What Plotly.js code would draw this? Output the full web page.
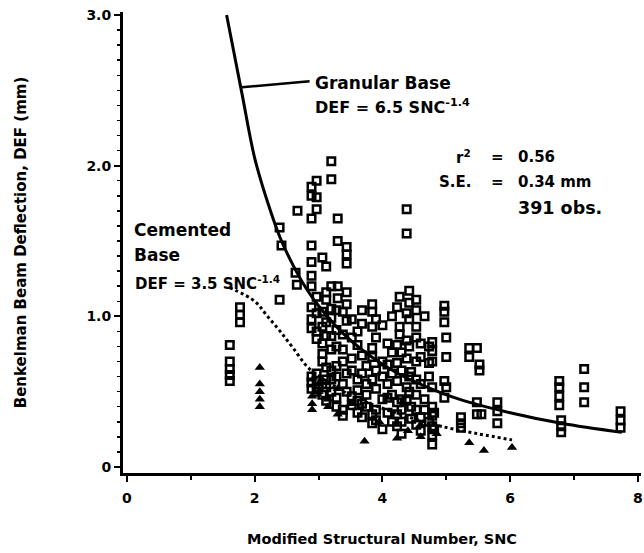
<!DOCTYPE html>
<html>
<head>
<meta charset="utf-8">
<script src="https://cdn.plot.ly/plotly-3.0.1.min.js"></script>
<style>html,body{margin:0;padding:0;background:#fff;}#chart{width:644px;height:553px;}</style>
</head>
<body>
<div id="chart"></div>
<script>
// Granular base observations (open squares)
const granX = [
  1.61,1.61,1.61,1.61,1.61,
  1.77,1.77,1.77,
  2.39,2.39,2.42,2.64,2.66,2.67,
  2.89,2.89,2.89,2.89,2.89,2.89,2.89,2.89,2.89,2.89,2.89,2.89,2.89,
  2.97,2.97,2.97,2.97,2.97,2.97,2.97,2.97,2.97,2.97,
  3.06,3.06,3.06,3.06,3.06,3.06,3.06,3.06,
  3.12,3.12,3.12,3.12,3.12,3.12,3.12,3.12,3.12,
  3.20,3.20,3.20,3.20,3.20,3.20,3.20,3.20,3.20,3.20,
  3.28,3.28,3.28,3.28,3.28,3.28,3.28,
  3.30,3.30,3.30,3.30,
  3.38,3.38,3.38,3.38,3.38,3.38,3.38,
  3.44,3.44,3.44,3.44,3.44,3.44,3.44,3.44,
  3.52,3.52,3.52,3.52,3.52,3.52,
  3.61,3.61,3.61,3.61,3.61,3.61,
  3.68,3.68,3.68,3.68,3.68,3.68,
  3.75,3.75,3.75,3.75,
  3.84,3.84,3.84,3.84,3.84,3.84,3.84,3.84,
  3.90,3.90,3.90,3.90,3.90,3.90,
  4.00,4.00,4.00,4.00,4.00,
  4.08,4.08,4.08,4.08,4.08,
  4.15,4.15,4.15,4.15,4.15,
  4.23,4.23,4.23,4.23,4.23,4.23,4.23,
  4.27,4.27,4.27,
  4.30,4.30,4.30,4.30,4.30,4.30,
  4.38,4.38,4.38,4.38,4.38,4.38,4.38,
  4.42,4.42,4.42,4.42,4.42,4.42,
  4.45,4.45,4.45,
  4.53,4.53,4.53,4.53,4.53,4.53,4.53,4.53,4.53,
  4.60,4.60,4.60,4.60,4.60,
  4.66,4.66,4.66,
  4.73,4.73,4.73,4.73,
  4.78,4.78,4.78,4.78,4.78,4.78,4.78,4.78,4.78,
  4.81,4.81,
  4.97,4.97,4.97,4.97,4.97,
  5.00,5.00,5.00,
  5.23,5.23,5.23,
  5.36,5.36,
  5.48,5.48,5.52,5.52,5.48,
  5.55,
  5.80,5.80,5.80,
  6.77,6.77,6.77,6.77,
  6.80,6.80,6.80,
  7.16,7.16,7.16,
  7.73,7.73,7.73
];
const granY = [
  0.81,0.70,0.65,0.61,0.57,
  1.06,1.01,0.96,
  1.59,1.11,1.47,1.29,1.21,1.70,
  1.86,1.80,1.65,1.47,1.36,1.27,1.20,1.06,0.98,0.92,0.60,0.56,0.52,
  1.90,1.79,1.71,1.13,1.02,0.90,0.85,0.62,0.57,0.50,
  1.39,1.03,0.93,0.82,0.75,0.70,0.55,0.48,
  1.33,1.16,1.11,0.96,0.87,0.66,0.58,0.53,0.44,
  2.03,1.91,1.20,1.05,0.99,0.87,0.78,0.64,0.58,0.50,
  1.04,0.91,0.80,0.67,0.60,0.46,0.40,
  1.65,1.50,1.20,1.12,
  1.03,0.88,0.78,0.70,0.55,0.38,0.34,
  1.46,1.41,1.35,1.16,1.08,0.97,0.62,0.50,
  0.98,0.86,0.72,0.64,0.47,0.41,
  0.90,0.81,0.58,0.51,0.44,0.36,
  1.04,0.95,0.74,0.62,0.42,0.33,
  0.67,0.55,0.48,0.40,
  1.08,1.03,0.93,0.79,0.73,0.58,0.35,0.29,
  0.98,0.86,0.64,0.52,0.38,0.31,
  0.94,0.70,0.60,0.45,0.25,
  0.82,0.68,0.55,0.46,0.36,
  1.00,0.76,0.62,0.48,0.30,
  1.06,0.81,0.69,0.57,0.43,0.35,0.27,
  1.13,0.93,0.88,
  0.76,0.64,0.45,0.38,0.30,0.22,
  1.71,1.55,1.02,0.84,0.72,0.53,0.44,
  1.17,1.09,0.98,0.80,0.60,0.50,
  0.63,0.40,0.32,
  1.11,1.04,0.93,0.86,0.70,0.58,0.48,0.38,0.28,
  0.82,0.73,0.55,0.33,0.24,
  1.00,0.45,0.38,
  0.80,0.69,0.60,0.30,
  0.83,0.77,0.70,0.53,0.40,0.34,0.27,0.21,0.15,
  0.36,0.25,
  1.07,1.03,0.96,0.57,0.46,
  0.86,0.73,0.53,
  0.33,0.29,0.26,
  0.79,0.73,
  0.79,0.43,0.68,0.64,0.35,
  0.35,
  0.43,0.37,0.29,
  0.57,0.53,0.47,0.41,
  0.31,0.27,0.23,
  0.65,0.53,0.43,
  0.37,0.31,0.26
];

// Cemented base observations (filled triangles)
const cemX = [2.08,2.08,2.08,2.08,2.08, 2.90,2.90,2.90, 3.00,3.00, 3.15,3.15, 3.30,3.30, 3.50, 3.72, 3.95, 4.23, 4.40, 4.60,4.60, 4.85, 5.36, 5.59, 6.03];
const cemY = [0.66,0.55,0.50,0.45,0.40, 0.47,0.42,0.38, 0.55,0.50, 0.45,0.40, 0.52,0.35, 0.42, 0.17, 0.30, 0.19, 0.24, 0.20,0.28, 0.22, 0.16, 0.11, 0.13];

// Fitted curves
const granCurveX = [1.56,1.80,2.00,2.20,2.40,2.60,2.80,3.00,3.40,3.80,4.20,4.70,5.20,6.00,6.80,7.75];
const granCurveY = [3.00,2.48,2.05,1.76,1.52,1.34,1.19,1.07,0.88,0.74,0.63,0.53,0.45,0.36,0.29,0.23];
const cemCurveX = [1.61,2.00,2.20,2.40,2.60,2.86,3.20,3.53,4.00,4.50,4.92,5.50,6.03];
const cemCurveY = [1.19,1.10,1.00,0.90,0.79,0.65,0.55,0.47,0.39,0.32,0.27,0.22,0.18];

// Axis ticks
const yTickVals = [0,1,2,3];
const yTickText = ['0','1.0','2.0','3.0'];
const xTickVals = [0,2,4,6,8];
const xTickText = ['0','2','4','6','8'];

const FONT = 'DejaVu Sans, Liberation Sans, Arial, sans-serif';

const traces = [
  {x: granX, y: granY, mode: 'markers', type: 'scatter', name: 'Granular Base',
   marker: {symbol: 'square-open', size: 7.5, color: '#000', line: {color: '#000', width: 2.5}}},
  {x: cemX, y: cemY, mode: 'markers', type: 'scatter', name: 'Cemented Base',
   marker: {symbol: 'triangle-up', size: 9, color: '#000'}},
  {x: granCurveX, y: granCurveY, mode: 'lines', type: 'scatter', name: 'DEF = 6.5 SNC^-1.4',
   line: {color: '#000', width: 3, shape: 'spline'}},
  {x: cemCurveX, y: cemCurveY, mode: 'lines', type: 'scatter', name: 'DEF = 3.5 SNC^-1.4',
   line: {color: '#000', width: 3, dash: 'dot', shape: 'spline'}}
];

const ann = (text, x, y, size, xanchor) => ({
  text: '<b>' + text + '</b>', x: x, y: y, xref: 'x', yref: 'y',
  xanchor: xanchor, yanchor: 'middle', showarrow: false,
  font: {family: FONT, size: size, color: '#000'}
});

const layout = {
  width: 644, height: 553,
  margin: {l: 123, r: 3, t: 12, b: 80},
  paper_bgcolor: '#fff', plot_bgcolor: '#fff',
  showlegend: false,
  font: {family: FONT, color: '#000'},
  xaxis: {
    range: [-0.0625, 8.05], showgrid: false, zeroline: false,
    showline: true, linecolor: '#000', linewidth: 3,
    tickmode: 'array', tickvals: xTickVals, ticktext: xTickText,
    ticks: 'outside', ticklen: 6, tickwidth: 2, tickcolor: '#000',
    ticklabelstandoff: 4,
    minor: {dtick: 1, tick0: 0, ticks: 'outside', ticklen: 4, tickwidth: 2, tickcolor: '#000'},
    tickfont: {family: FONT, size: 14, color: '#000', weight: 'bold'},
    title: {text: '<b>Modified Structural Number, SNC</b>', standoff: 30,
            font: {family: FONT, size: 14.5, color: '#000'}}
  },
  yaxis: {
    range: [-0.04, 3.02], showgrid: false, zeroline: false,
    showline: true, linecolor: '#000', linewidth: 3,
    tickmode: 'array', tickvals: yTickVals, ticktext: yTickText,
    ticks: 'outside', ticklen: 6, tickwidth: 2, tickcolor: '#000',
    minor: {dtick: 0.1, tick0: 0, ticks: 'outside', ticklen: 3, tickwidth: 1.5, tickcolor: '#000'},
    tickfont: {family: FONT, size: 14, color: '#000', weight: 'bold'},
    title: {text: '<b>Benkelman Beam Deflection, DEF (mm)</b>', standoff: 57,
            font: {family: FONT, size: 15, color: '#000'}}
  },
  shapes: [
    {type: 'line', xref: 'x', yref: 'y', x0: 1.80, y0: 2.52, x1: 2.86, y1: 2.56,
     line: {color: '#000', width: 2.5}}
  ],
  annotations: [
    ann('Granular Base', 2.91, 2.55, 17, 'left'),
    ann('DEF = 6.5 SNC<sup>-1.4</sup>', 2.91, 2.39, 16, 'left'),
    ann('r<sup>2</sup>', 5.42, 2.06, 15, 'right'),
    ann('S.E.', 5.42, 1.89, 15, 'right'),
    ann('=', 5.80, 2.06, 15, 'center'),
    ann('=', 5.80, 1.89, 15, 'center'),
    ann('0.56', 6.09, 2.06, 15, 'left'),
    ann('0.34 mm', 6.09, 1.89, 15, 'left'),
    ann('391 obs.', 6.09, 1.72, 17.5, 'left'),
    ann('Cemented', 0.08, 1.57, 17, 'left'),
    ann('Base', 0.08, 1.41, 17, 'left'),
    ann('DEF = 3.5 SNC<sup>-1.4</sup>', 0.09, 1.22, 15, 'left')
  ]
};

Plotly.newPlot('chart', traces, layout, {staticPlot: true, displayModeBar: false});
</script>
</body>
</html>
